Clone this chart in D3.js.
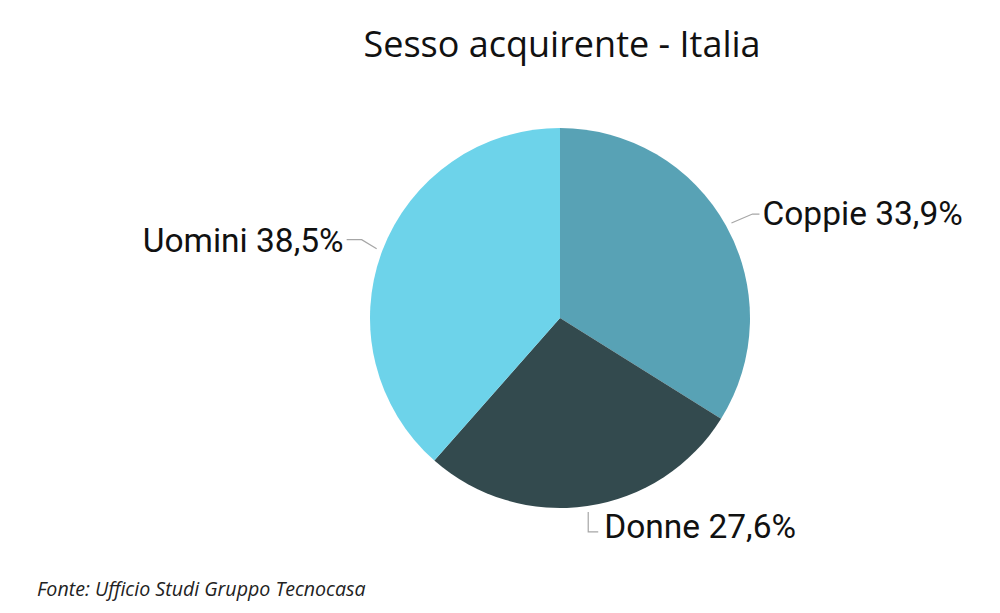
<!DOCTYPE html>
<html><head><meta charset="utf-8">
<script src="https://cdn.jsdelivr.net/npm/d3@7"></script>
<style>body{margin:0;background:#fff}svg{display:block}</style>
</head><body>
<svg id="c" width="1000" height="613"></svg>
<script>
const categories = ["Coppie", "Donne", "Uomini"];
const values = [33.9, 27.6, 38.5];
const colors = ["#58a2b5", "#334a4e", "#6dd3ea"];
const labels = ["Coppie 33,9%", "Donne 27,6%", "Uomini 38,5%"];

const svg = d3.select("#c");
const W = 1000, H = 613;
const cx = 560, cy = 318, r = 190;
svg.append("rect").attr("width", W).attr("height", H).attr("fill", "#fff");

svg.append("text").attr("x", 562).attr("y", 57).attr("text-anchor", "middle")
  .attr("font-family", "'Open Sans', sans-serif").attr("font-size", 36).attr("fill", "#111")
  .text("Sesso acquirente - Italia");

const data = categories.map((c, i) => ({c, v: values[i], col: colors[i], lab: labels[i]}));
const pie = d3.pie().value(d => d.v).sort(null);
const arcs = pie(data);
const arc = d3.arc().innerRadius(0).outerRadius(r);
const g = svg.append("g").attr("transform", `translate(${cx},${cy})`);
g.selectAll("path").data(arcs).join("path").attr("d", arc).attr("fill", d => d.data.col);

// label layout (style offsets)
const layout = {
  "Coppie": {elbow: [21, -9], end: [7, 0], anchor: "start", dx: 3, dy: 11},
  "Donne": {elbow: [0, 20], end: [10, 0], anchor: "start", dx: 6, dy: 6},
  "Uomini": {elbow: [-15, -9], end: [-15, 0], anchor: "end", dx: -3, dy: 12}
};
const outer = d3.arc().innerRadius(r + 6).outerRadius(r + 6);
arcs.forEach(a => {
  const L = layout[a.data.c];
  const p0 = outer.centroid(a);
  const p1 = [p0[0] + L.elbow[0], p0[1] + L.elbow[1]];
  const p2 = [p1[0] + L.end[0], p1[1] + L.end[1]];
  g.append("polyline").attr("points", [p0, p1, p2].map(p => p.join(",")).join(" "))
    .attr("fill", "none").attr("stroke", "#a6a6a6").attr("stroke-width", 1.2);
  g.append("text").attr("x", p2[0] + L.dx).attr("y", p2[1] + L.dy)
    .attr("text-anchor", L.anchor).attr("font-family", "Roboto, sans-serif")
    .attr("font-size", 33.5).attr("fill", "#111").text(a.data.lab);
});

svg.append("text").attr("x", 37).attr("y", 596)
  .attr("font-family", "'Open Sans', sans-serif").attr("font-style", "italic")
  .attr("font-size", 19.6).attr("fill", "#222").text("Fonte: Ufficio Studi Gruppo Tecnocasa");
</script>
</body></html>
